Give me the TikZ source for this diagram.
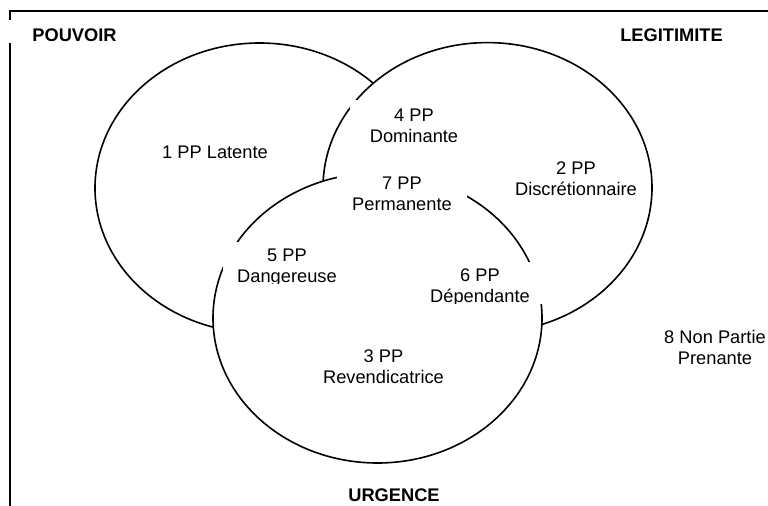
\documentclass[tikz,border=0pt]{standalone}
\usepackage{fontspec}
\setmainfont{Liberation Sans}
\usetikzlibrary{shapes.geometric}

\begin{document}
\begin{tikzpicture}[x=0.75pt,y=-0.75pt,
    set/.style={ellipse, draw, fill=white, line width=1.2pt, inner sep=0pt,
      minimum width=329*0.75pt, minimum height=290*0.75pt},
    pp/.style={align=center, fill=white, inner sep=1pt,
      font=\fontsize{13.7}{15.75}\selectfont},
    title/.style={pp, font=\fontsize{13.7}{15.75}\selectfont\bfseries}]
  \useasboundingbox (0,0) rectangle (768,506);
  \draw[line width=1.5pt] (10,506) -- (10,11) -- (768,11);
  % the three sets
  \node[set] (pouvoir) at (259.5,188) {};
  \node[set] (legitimite) at (487.5,187.6) {};
  \node[set] (urgence) at (377.5,318) {};
  % titles
  \node[title, anchor=base, inner ysep=0pt, text height=16.5pt, text depth=0.75pt,
    minimum width=134*0.75pt] (tpouvoir) at (74.5,42) {POUVOIR};
  \node[title] (tlegitimite) at (671.5,35) {LEGITIMITE};
  \node[title] (turgence) at (394,495) {URGENCE};
  % parties prenantes
  \node[pp] (pp1) at (215,152) {1 PP Latente};
  \node[pp] (pp2) at (576,179) {2 PP\\Discrétionnaire};
  \node[pp] (pp3) at (383.5,366.5) {3 PP\\Revendicatrice};
  \node[pp, minimum width=128*0.75pt, minimum height=51*0.75pt] (pp4) at (414,126) {4 PP\\Dominante};
  \begin{scope}
    \clip (223,242) rectangle (351,283);
    \node[pp, minimum width=128*0.75pt, minimum height=51*0.75pt] (pp5) at (287,267.5) {5 PP\\Dangereuse};
  \end{scope}
  \begin{scope}
    \clip (416,262) rectangle (544,303);
    \node[pp, minimum width=128*0.75pt, minimum height=51*0.75pt] (pp6) at (480,287.5) {6 PP\\Dépendante};
  \end{scope}
  \node[pp, minimum width=130*0.75pt, minimum height=50*0.75pt] (pp7) at (402,194) {7 PP\\Permanente};
  \node[pp] (pp8) at (715,347.5) {8 Non Partie\\Prenante};
\end{tikzpicture}
\end{document}
